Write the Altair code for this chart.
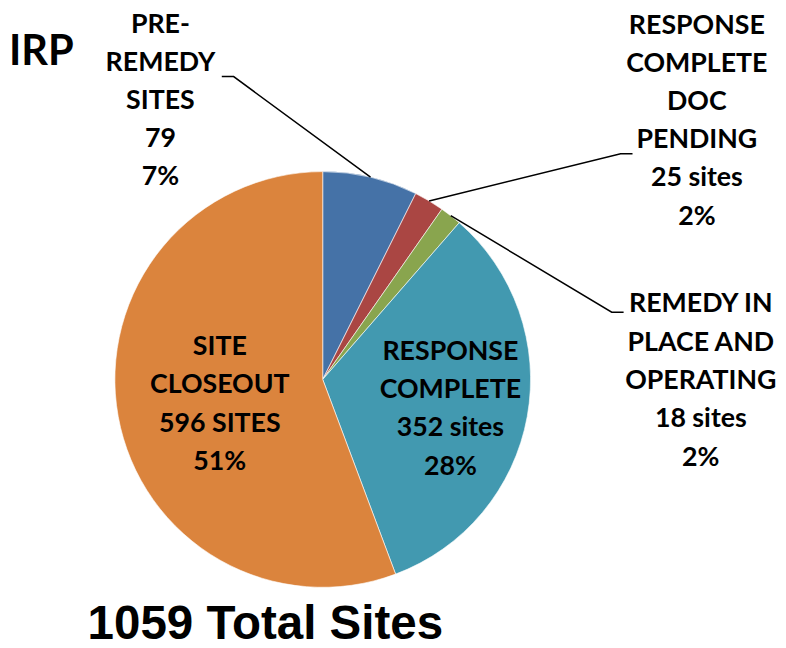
import altair as alt
import pandas as pd
import numpy as np

# ---- data ----
categories = ["PRE-REMEDY SITES", "RESPONSE COMPLETE DOC PENDING",
              "REMEDY IN PLACE AND OPERATING", "RESPONSE COMPLETE", "SITE CLOSEOUT"]
site_counts = [79, 25, 18, 352, 596]
name_lines = [["PRE-", "REMEDY", "SITES"],
              ["RESPONSE", "COMPLETE", "DOC", "PENDING"],
              ["REMEDY IN", "PLACE AND", "OPERATING"],
              ["RESPONSE", "COMPLETE"],
              ["SITE", "CLOSEOUT"]]
count_labels = ["79", "25 sites", "18 sites", "352 sites", "596 SITES"]
pct_labels = ["7%", "2%", "2%", "28%", "51%"]
title_text = "IRP"
total_text = "1059 Total Sites"

# ---- styling / layout ----
colors = ["#4572A7", "#AA4643", "#89A54E", "#4299B0", "#DB843D"]
W, H = 778, 640
CX, CY, R = 318, 372, 210
label_anchor = [(154, 22), (696, 22.5), (700, 304), (447, 352), (214, 347)]
label_lh = [38.3, 38.6, 38.8, 38.8, 38.8]
elbows = {0: [(228, 66), (216, 66)],
          1: [(619, 144), (631, 144)],
          2: [(610, 304), (622, 304)]}

pie_df = pd.DataFrame({"category": categories, "value": site_counts,
                       "idx": list(range(len(categories)))})

# text rows: one per line
rows = []
for i, cat in enumerate(categories):
    lines = name_lines[i] + [count_labels[i], pct_labels[i]]
    x0, y0 = label_anchor[i]
    for j, t in enumerate(lines):
        rows.append({"key": cat, "t": t, "tx": x0, "ty": y0 + j * label_lh[i]})
text_df = pd.DataFrame(rows)

# leader lines: start on pie edge at slice mid-angle
total = float(sum(site_counts))
cum = np.cumsum(site_counts)
lrows = []
for i, pts in elbows.items():
    a = (cum[i] - site_counts[i] / 2.0) / total * 2 * np.pi
    sx, sy = CX + R * np.sin(a), CY - R * np.cos(a)
    seq = [(sx, sy)] + pts
    for k, (px, py) in enumerate(seq):
        lrows.append({"key": categories[i], "o": k, "x": px, "y": py})
line_df = pd.DataFrame(lrows)

pie = alt.Chart(pie_df).mark_arc(radius=R, stroke="white", strokeWidth=0.6).encode(
    theta=alt.Theta("value:Q", stack=True),
    color=alt.Color("category:N", scale=alt.Scale(domain=categories, range=colors), legend=None),
    order=alt.Order("idx:Q"),
    x=alt.value(CX), y=alt.value(CY),
)

leaders = alt.Chart(line_df).mark_line(color="black", strokeWidth=1.5).encode(
    x=alt.X("x:Q", scale=None, axis=None),
    y=alt.Y("y:Q", scale=None, axis=None),
    detail="key:N",
    order="o:Q",
)

labels = alt.Chart(text_df).mark_text(font="Lato", fontWeight="bold", fontSize=27,
                                      align="center", baseline="alphabetic", color="black").encode(
    x=alt.X("tx:Q", scale=None, axis=None),
    y=alt.Y("ty:Q", scale=None, axis=None),
    text="t:N",
)

irp = alt.Chart(pd.DataFrame({"t": [title_text]})).mark_text(
    font="Lato", fontWeight="bold", fontSize=42, align="left", baseline="alphabetic", color="black"
).encode(x=alt.value(1), y=alt.value(54), text="t:N")

tot = alt.Chart(pd.DataFrame({"t": [total_text]})).mark_text(
    font="Liberation Sans", fontWeight="bold", fontSize=48, align="center", baseline="alphabetic", color="black"
).encode(x=alt.value(260), y=alt.value(634), text="t:N")

chart = alt.layer(pie, leaders, labels, irp, tot).properties(
    width=W, height=H, padding=0, autosize=alt.AutoSizeParams(type="none")
).configure_view(stroke=None)

chart.save("out.html", embed_options={"renderer": "svg", "actions": False})
